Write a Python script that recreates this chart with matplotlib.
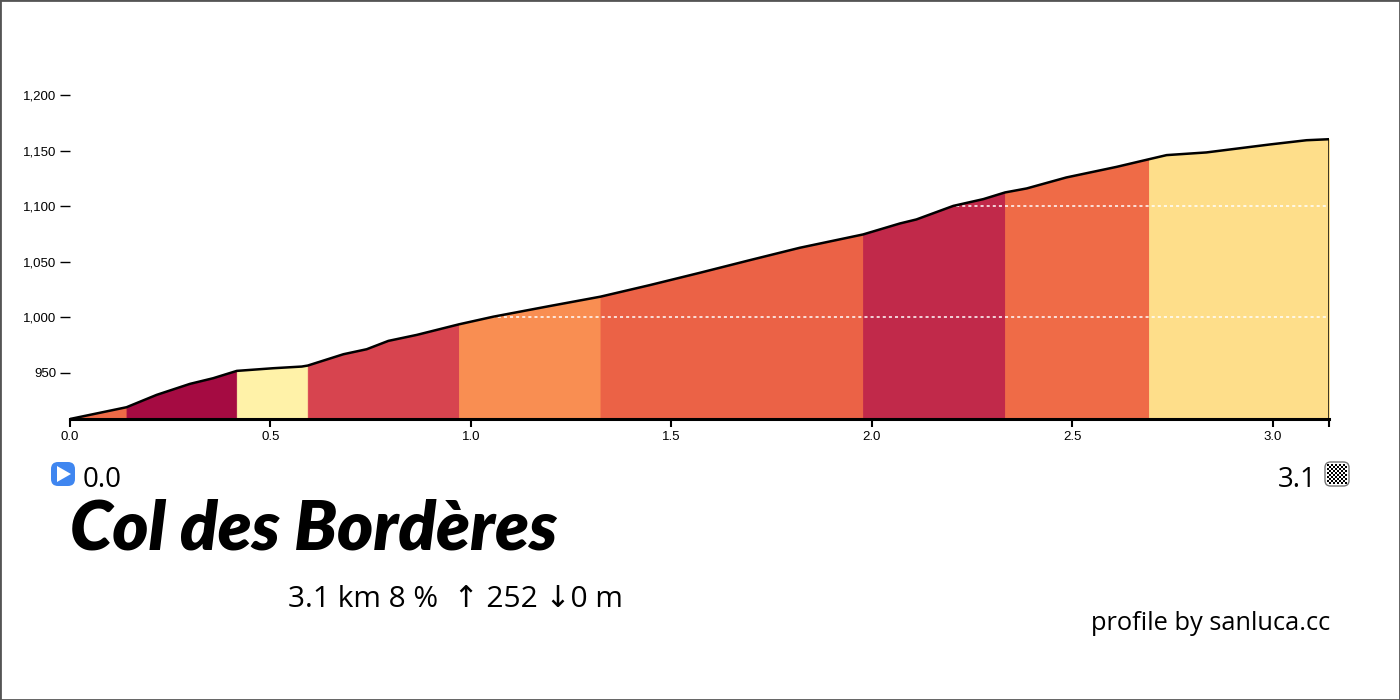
import numpy as np
import matplotlib
matplotlib.use("Agg")
import matplotlib.pyplot as plt
from matplotlib.patches import FancyBboxPatch, Rectangle, Polygon
from matplotlib.ticker import FuncFormatter

# ---- data ----
km = [0.0, 0.141, 0.216, 0.299, 0.357, 0.416, 0.507, 0.578, 0.593, 0.682, 0.740,
      0.794, 0.865, 0.970, 1.056, 1.197, 1.323, 1.446, 1.571, 1.696, 1.820, 1.978,
      2.070, 2.111, 2.203, 2.278, 2.332, 2.386, 2.485, 2.610, 2.691, 2.735, 2.834,
      2.993, 3.084, 3.140]
elev = [908.5, 919.1, 930.2, 940.1, 945.2, 951.8, 954.2, 955.7, 956.6, 966.8, 971.3,
        978.8, 984.2, 993.7, 1000.6, 1010.2, 1018.6, 1029.0, 1040.1, 1051.5, 1062.6, 1074.6,
        1084.5, 1088.1, 1100.3, 1106.4, 1112.4, 1116.0, 1125.9, 1135.4, 1142.3, 1146.0, 1148.4,
        1155.6, 1159.4, 1160.3]
seg_edges = [0.0, 0.141, 0.416, 0.593, 0.970, 1.323, 1.978, 2.332, 2.691, 3.140]
seg_colors = ["#EE6A47", "#A50B42", "#FFF2A8", "#D7444F", "#F98E52",
              "#EB6246", "#C1294A", "#EF6B47", "#FEDE8A"]
grid_levels = [1000, 1100]
xtick_vals = [0.0, 0.5, 1.0, 1.5, 2.0, 2.5, 3.0]
ytick_vals = [950, 1000, 1050, 1100, 1150, 1200]
title = "Col des Bordères"
start_label = "0.0"
end_label = "3.1"
stats = "3.1 km 8 %  ↑ 252 ↓0 m"
credit = "profile by sanluca.cc"

W, H = 1400, 700
fig = plt.figure(figsize=(14, 7), dpi=100)
fig.patch.set_facecolor("white")

def fx(px):
    return px / W

def fy(py):
    return 1 - py / H

ax = fig.add_axes([fx(70), fy(419), fx(1329) - fx(70), fy(84) - fy(419)])
ax.set_xlim(0, km[-1])
ax.set_ylim(908.5, 1210)

x = np.array(km)
y = np.array(elev)
for a, b, c in zip(seg_edges[:-1], seg_edges[1:], seg_colors):
    m = (x >= a - 1e-9) & (x <= b + 1e-9)
    ax.fill_between(x[m], 800, y[m], color=c, lw=0.6, edgecolor=c, zorder=1)

# clip polygon for dotted grid lines
clip_poly = Polygon(np.column_stack([np.r_[x, x[-1], x[0]], np.r_[y, 800, 800]]),
                    closed=True, transform=ax.transData, facecolor="none", edgecolor="none")
ax.add_patch(clip_poly)
for g in grid_levels:
    ln = ax.axhline(g, color="white", lw=1.1, dashes=(2, 2), zorder=2)
    ln.set_clip_path(clip_poly)

ax.plot(x, y, color="black", lw=1.8, zorder=3, solid_capstyle="round")
ax.vlines(x[-1], 800, y[-1], color="black", lw=1.8, zorder=3)

for s in ["top", "left", "right"]:
    ax.spines[s].set_visible(False)
ax.spines["bottom"].set_linewidth(2.2)
ax.spines["bottom"].set_zorder(4)

tick_font = "Liberation Sans"
ax.set_xticks(xtick_vals)
ax.set_xticklabels([f"{v:.1f}" for v in xtick_vals], fontfamily=tick_font, fontsize=9.5)
ax.set_xticks([km[-1]], minor=True)
ax.tick_params(axis="x", which="both", direction="out", length=6, width=1.5, pad=3, color="black")
ax.set_yticks(ytick_vals)
ax.yaxis.set_major_formatter(FuncFormatter(lambda v, p: f"{v:,.0f}"))
ax.tick_params(axis="y", direction="out", length=7, width=1, pad=3, labelsize=9.5, color="black")
for lab in ax.get_yticklabels():
    lab.set_fontfamily(tick_font)

# ---- bottom texts ----
txt_font = ["Open Sans", "DejaVu Sans"]

# play icon
fig.patches.append(FancyBboxPatch((fx(51), fy(486)), fx(24), fy(462) - fy(486),
                                  boxstyle="round,pad=0,rounding_size=0.005",
                                  transform=fig.transFigure, facecolor="#3F86F0",
                                  edgecolor="none", mutation_aspect=2))
fig.patches.append(Polygon([[fx(57), fy(466)], [fx(57), fy(482)], [fx(71), fy(474)]],
                           closed=True, transform=fig.transFigure, facecolor="white",
                           edgecolor="none"))
fig.text(fx(83), fy(487), start_label, fontsize=20, family=txt_font, ha="left", va="baseline")

# finish icon
fig.text(fx(1317), fy(487), end_label, fontsize=20, family=txt_font, ha="right", va="baseline")
iax = fig.add_axes([fx(1327), fy(484), fx(20), fy(464) - fy(484)])
checker = (np.add.outer(np.arange(10), np.arange(10)) % 2).astype(float)
iax.imshow(checker, cmap="gray", interpolation="nearest", aspect="auto")
iax.axis("off")
fig.patches.append(FancyBboxPatch((fx(1325), fy(486)), fx(24), fy(462) - fy(486),
                                  boxstyle="round,pad=0,rounding_size=0.004",
                                  transform=fig.transFigure, facecolor="none",
                                  edgecolor="#777777", lw=1, mutation_aspect=2))

fig.text(fx(70), fy(550), title, fontsize=49.5, family=["Lato", "DejaVu Sans"],
         fontweight="heavy", fontstyle="italic", ha="left", va="baseline")
fig.text(fx(288), fy(607), stats, fontsize=21.5, family=txt_font, ha="left", va="baseline")
fig.text(fx(1330), fy(630), credit, fontsize=18.3, family=txt_font,
         ha="right", va="baseline")

fig.patches.append(Rectangle((0, 0), 1, 1, transform=fig.transFigure, fill=False,
                             edgecolor="#555555", lw=2))

fig.savefig("out.png", dpi=100)
